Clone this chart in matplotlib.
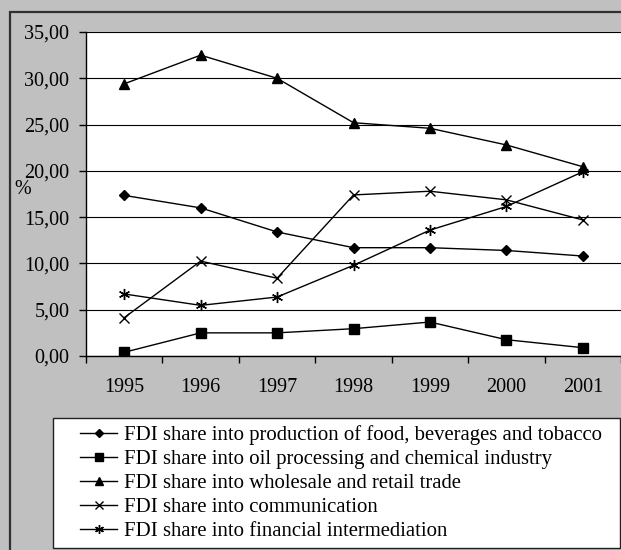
import matplotlib
matplotlib.use("Agg")
import matplotlib.pyplot as plt
from matplotlib.patches import Rectangle
import numpy as np

plt.rcParams['font.family'] = ['Liberation Serif', 'DejaVu Serif']

years = ['1995', '1996', '1997', '1998', '1999', '2000', '2001']

food = [17.35, 16.0, 13.4, 11.7, 11.7, 11.4, 10.8]
oil = [0.4, 2.5, 2.5, 2.95, 3.67, 1.76, 0.9]
trade = [29.4, 32.5, 30.0, 25.2, 24.6, 22.8, 20.45]
comm = [4.14, 10.25, 8.4, 17.4, 17.8, 16.87, 14.7]
finance = [6.7, 5.47, 6.37, 9.8, 13.6, 16.15, 19.9]

labels = ['FDI share into production of food, beverages and tobacco',
          'FDI share into oil processing and chemical industry',
          'FDI share into wholesale and retail trade',
          'FDI share into communication',
          'FDI share into financial intermediation']

W, H = 621, 550
fs = 14.5
fig = plt.figure(figsize=(W / 100, H / 100), dpi=100, facecolor='#c0c0c0')

# outer frame
fig.patches.append(Rectangle((10 / W, -0.01), 1.0, 1 - 12 / H + 0.01,
                             transform=fig.transFigure, fill=False,
                             edgecolor='#303030', linewidth=1.6))

ax = fig.add_axes([86 / W, 1 - 356 / H, 1 - 86 / W, (356 - 32) / H])
ax.set_facecolor('white')

x = np.arange(len(years))
h1, = ax.plot(x, food, color='black', lw=1, marker='D', ms=5.5)
h2, = ax.plot(x, oil, color='black', lw=1, marker='s', ms=6.5)
h3, = ax.plot(x, trade, color='black', lw=1, marker='^', ms=7)
h4, = ax.plot(x, comm, color='black', lw=1, marker='x', ms=7, mew=1)
h5, = ax.plot(x, finance, color='black', lw=1, marker=(6, 2, 0), ms=8, mew=1)

ax.set_xlim(-0.5, 6.5)
ax.set_ylim(0, 35)
ax.set_yticks(np.arange(0, 36, 5))
ax.yaxis.set_major_formatter(plt.FuncFormatter(lambda v, p: ('%.2f' % v).replace('.', ',')))
ax.set_xticks(x)
ax.set_xticklabels(years)
ax.set_xticks(np.arange(-0.5, 7, 1), minor=True)
ax.tick_params(axis='x', which='major', length=0, pad=15.5, labelsize=fs)
ax.tick_params(axis='x', which='minor', length=5, width=1, direction='out')
ax.tick_params(axis='y', length=5, width=1, direction='out', pad=7, labelsize=fs)
ax.grid(axis='y', color='black', lw=0.8)
ax.set_axisbelow(True)
for s in ['top', 'right']:
    ax.spines[s].set_visible(False)
for s in ['left', 'bottom']:
    ax.spines[s].set_linewidth(1)

fig.text(14 / W, 1 - 190 / H, '%', fontsize=fs, va='center', ha='left')

# legend box
fig.patches.append(Rectangle((53 / W, 1 - 548 / H), (620 - 53) / W, 130 / H,
                             transform=fig.transFigure, facecolor='white',
                             edgecolor='#202020', linewidth=1))
fig.legend([h1, h2, h3, h4, h5], labels, loc='upper left',
           bbox_to_anchor=(78 / W, 1 - 423 / H), frameon=False,
           fontsize=14.95, handlelength=1.8, handletextpad=0.3,
           labelspacing=0.22, borderaxespad=0, borderpad=0.1,
           markerscale=0.8)

fig.savefig('out.png', dpi=100, facecolor=fig.get_facecolor())
